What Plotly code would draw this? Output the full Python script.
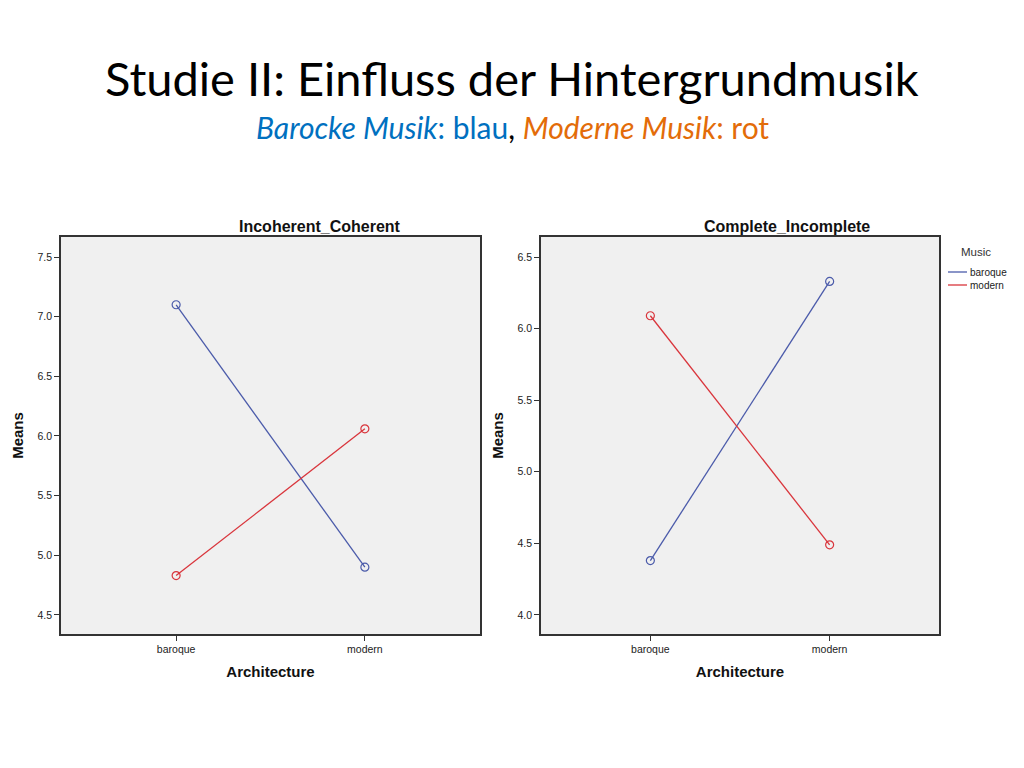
import plotly.graph_objects as go
from plotly.subplots import make_subplots

# data
architecture = ["baroque", "modern"]
music_groups = ["baroque", "modern"]
coherent_means = {"baroque": [7.10, 4.90], "modern": [4.83, 6.06]}
complete_means = {"baroque": [4.38, 6.33], "modern": [6.09, 4.49]}
coherent_ticks = [4.5, 5.0, 5.5, 6.0, 6.5, 7.0, 7.5]
complete_ticks = [4.0, 4.5, 5.0, 5.5, 6.0, 6.5]

line_colors = {"baroque": "#4B5BAA", "modern": "#D9353C"}

# page has an 8px body margin, so the figure is a bit smaller than the window
W, H, OFF = 1008, 752, 8


def px(x):
    return (x - OFF) / W


def py(y):
    return 1 - (y - OFF) / H


fig = make_subplots(rows=1, cols=2)

for col, means in [(1, coherent_means), (2, complete_means)]:
    for grp in music_groups:
        fig.add_trace(go.Scatter(
            x=architecture, y=means[grp],
            mode="lines+markers",
            line=dict(color=line_colors[grp], width=1.3),
            marker=dict(symbol="circle-open", size=8, color=line_colors[grp],
                        line=dict(width=1.2)),
            showlegend=False,
            name=grp,
        ), row=1, col=col)

axis_font = dict(family="Liberation Sans, Arial", size=10.5, color="#222")
title_font = dict(family="Liberation Sans, Arial", size=15, color="#111")

common_x = dict(
    showline=True, mirror=True, linecolor="#333", linewidth=1.5,
    showgrid=False, zeroline=False, ticks="outside", ticklen=5,
    tickcolor="#333", tickfont=axis_font, range=[-0.61, 1.61],
    title=dict(text="<b>Architecture</b>", font=title_font, standoff=12),
)
common_y = dict(
    showline=True, mirror=True, linecolor="#333", linewidth=1.5,
    showgrid=False, zeroline=False, ticks="outside", ticklen=5,
    tickcolor="#333", tickfont=axis_font, tickformat=".1f",
    title=dict(text="<b>Means</b>", font=title_font, standoff=10),
)

fig.update_xaxes(**common_x)
fig.update_yaxes(**common_y)
fig.update_layout(
    xaxis=dict(domain=[px(61), px(480)]),
    xaxis2=dict(domain=[px(541), px(939)]),
    yaxis=dict(domain=[py(634), py(237)], range=[4.34, 7.668],
               tickvals=coherent_ticks),
    yaxis2=dict(domain=[py(634), py(237)], range=[3.867, 6.64],
                tickvals=complete_ticks),
)

fig.update_layout(
    width=W, height=H, autosize=False,
    margin=dict(l=0, r=0, t=0, b=0, autoexpand=False),
    paper_bgcolor="white",
    plot_bgcolor="#F0F0F0",
    showlegend=False,
)

# SPSS-style legend: title and short line samples
fig.add_annotation(
    x=px(976), y=py(252), xref="paper", yref="paper", showarrow=False,
    xanchor="center", yanchor="middle", text="Music",
    font=dict(family="Liberation Sans, Arial", size=11.5, color="#333"),
)
for i, grp in enumerate(music_groups):
    ly = 272 + 13 * i
    fig.add_shape(
        type="line", xref="paper", yref="paper",
        x0=px(948), x1=px(967), y0=py(ly), y1=py(ly),
        line=dict(color=line_colors[grp], width=1.3),
    )
    fig.add_annotation(
        x=px(968), y=py(ly), xref="paper", yref="paper", showarrow=False,
        xanchor="left", yanchor="middle", text=grp,
        font=dict(family="Liberation Sans, Arial", size=10, color="#222"),
    )

# slide title and subtitle
fig.add_annotation(
    x=px(512), y=py(78), xref="paper", yref="paper", showarrow=False,
    xanchor="center", yanchor="middle",
    text="Studie II: Einfluss der Hintergrundmusik",
    font=dict(family="Lato, Carlito, sans-serif", size=47, color="black"),
)
fig.add_annotation(
    x=px(512), y=py(127), xref="paper", yref="paper", showarrow=False,
    xanchor="center", yanchor="middle",
    text=("<span style='color:#0070C0'><i>Barocke Musik</i>: blau</span>"
          "<span style='color:black'>,</span> "
          "<span style='color:#E36C09'><i>Moderne Musik</i>: rot</span>"),
    font=dict(family="Lato, Carlito, sans-serif", size=30),
)

# chart titles
for xc, txt in [(320, "Incoherent_Coherent"), (787, "Complete_Incomplete")]:
    fig.add_annotation(
        x=px(xc), y=py(226), xref="paper", yref="paper", showarrow=False,
        xanchor="center", yanchor="middle",
        text="<b>" + txt + "</b>",
        font=dict(family="Liberation Sans, Arial", size=16, color="#111"),
    )

fig.write_html("out.html")
